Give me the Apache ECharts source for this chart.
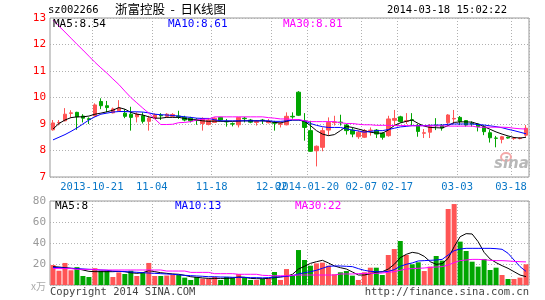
<!DOCTYPE html>
<html><head><meta charset="utf-8">
<script src="https://cdn.jsdelivr.net/npm/echarts@6/dist/echarts.min.js"></script>
<style>html,body{margin:0;padding:0;background:#fff}#c{width:545px;height:300px}</style>
</head><body><div id="c"></div>
<script>
const dates = ['2013-10-10','2013-10-11','2013-10-14','2013-10-15','2013-10-16','2013-10-17','2013-10-18',
'2013-10-21','2013-10-22','2013-10-23','2013-10-24','2013-10-25','2013-10-28','2013-10-29','2013-10-30','2013-10-31','2013-11-01',
'2013-11-04','2013-11-05','2013-11-06','2013-11-07','2013-11-08','2013-11-11','2013-11-12','2013-11-13','2013-11-14','2013-11-15',
'2013-11-18','2013-11-19','2013-11-20','2013-11-21','2013-11-22','2013-11-25','2013-11-26','2013-11-27','2013-11-28','2013-11-29',
'2013-12-02','2013-12-03','2013-12-04','2013-12-05','2014-01-16','2014-01-17',
'2014-01-20','2014-01-21','2014-01-22','2014-01-23','2014-01-24','2014-01-27','2014-01-28','2014-01-29','2014-01-30',
'2014-02-07','2014-02-10','2014-02-11','2014-02-12','2014-02-13','2014-02-14',
'2014-02-17','2014-02-18','2014-02-19','2014-02-20','2014-02-21','2014-02-24','2014-02-25','2014-02-26','2014-02-27','2014-02-28',
'2014-03-03','2014-03-04','2014-03-05','2014-03-06','2014-03-07','2014-03-10','2014-03-11','2014-03-12','2014-03-13','2014-03-14','2014-03-17','2014-03-18'];
const tickIdx = [7,17,27,37,43,52,58,68,77];
const tickText = ['2013-10-21','11-04','11-18','12-02','2014-01-20','02-07','02-17','03-03','03-18'];

const opens = [8.78,9.04,9.12,9.40,9.44,9.30,9.20,9.30,9.85,9.69,
9.42,9.50,9.41,9.37,9.27,9.31,9.10,9.22,9.33,9.29,
9.29,9.30,9.25,9.22,9.16,9.02,8.98,9.06,9.25,9.10,
9.01,8.97,9.22,9.15,9.06,9.15,9.05,9.05,8.99,8.97,
9.29,10.20,9.12,8.75,7.99,8.12,8.77,9.05,9.07,8.96,
8.77,8.52,8.50,8.75,8.77,8.65,8.56,9.14,9.27,9.10,
9.16,8.94,8.65,8.69,8.95,8.94,9.05,9.19,9.25,9.13,
9.03,9.00,8.90,8.67,8.47,8.42,8.50,8.45,8.45,8.58];
const closes = [9.04,9.06,9.37,9.42,9.27,9.22,9.17,9.72,9.69,9.62,
9.57,9.60,9.29,9.25,9.37,9.10,9.22,9.35,9.31,9.37,
9.36,9.28,9.15,9.12,9.13,9.20,9.15,9.22,9.15,9.08,
9.00,9.25,9.20,9.07,9.10,9.13,9.10,9.03,9.01,9.29,
9.27,9.33,8.87,7.97,8.16,8.75,9.06,9.07,9.05,8.75,
8.62,8.69,8.75,8.77,8.62,8.50,9.19,9.21,9.09,9.12,
9.14,8.72,8.67,8.90,8.93,8.85,9.34,9.21,9.09,8.96,
9.01,8.90,8.71,8.48,8.46,8.52,8.47,8.47,8.47,8.84];
const lows = [8.75,8.95,9.10,9.25,8.78,9.06,9.00,9.28,9.56,9.44,
9.40,9.47,9.22,8.75,9.06,9.02,8.75,9.20,9.15,9.25,
9.27,9.19,9.10,9.06,8.97,8.75,8.95,9.04,9.10,8.90,
8.91,8.87,9.06,9.03,8.94,9.00,9.02,8.75,8.87,8.95,
9.20,9.30,8.37,7.95,7.40,7.97,8.56,8.94,8.94,8.60,
8.50,8.44,8.47,8.56,8.47,8.41,8.52,8.94,9.05,9.00,
8.94,8.52,8.47,8.47,8.77,8.75,8.94,9.00,8.96,8.90,
8.90,8.72,8.58,8.30,8.12,8.27,8.45,8.40,8.42,8.52];
const highs = [9.15,9.15,9.60,9.52,9.46,9.37,9.25,9.78,9.97,9.87,
9.62,9.90,9.56,9.65,9.44,9.44,9.31,9.40,9.41,9.41,
9.41,9.50,9.31,9.27,9.22,9.25,9.22,9.25,9.27,9.19,
9.06,9.26,9.27,9.19,9.15,9.19,9.19,9.12,9.09,9.44,
9.44,10.24,9.41,9.12,8.19,8.87,9.25,9.31,9.35,9.00,
8.87,8.75,8.81,8.87,8.81,8.69,9.31,9.53,9.31,9.41,
9.41,9.00,8.81,9.00,9.22,9.00,9.37,9.53,9.30,9.15,
9.10,9.02,8.96,8.77,8.55,8.55,8.52,8.50,8.50,8.96];

const ma5 = [8.81,9.02,9.15,9.24,9.27,9.27,9.30,9.37,9.41,9.46,
9.52,9.62,9.56,9.44,9.37,9.34,9.27,9.22,9.22,9.25,
9.25,9.25,9.21,9.17,9.15,9.12,9.10,9.11,9.10,9.10,
9.10,9.11,9.12,9.12,9.12,9.12,9.10,9.06,9.04,9.10,
9.15,9.15,9.10,8.94,8.75,8.62,8.56,8.60,8.75,8.91,
8.87,8.81,8.75,8.69,8.66,8.65,8.77,8.94,9.04,9.10,
9.15,9.02,8.92,8.87,8.86,8.85,8.94,9.06,9.08,9.08,
9.07,9.00,8.90,8.80,8.70,8.62,8.55,8.49,8.47,8.50];
const ma10 = [8.40,8.50,8.60,8.72,8.85,9.00,9.15,9.27,9.37,9.41,
9.45,9.47,9.47,9.46,9.46,9.45,9.42,9.37,9.35,9.34,
9.32,9.30,9.27,9.25,9.22,9.21,9.21,9.16,9.12,9.12,
9.12,9.12,9.12,9.12,9.12,9.12,9.12,9.10,9.10,9.12,
9.15,9.15,9.12,9.02,8.95,8.90,8.87,8.87,8.87,8.82,
8.77,8.74,8.69,8.72,8.75,8.75,8.79,8.84,8.89,8.91,
8.94,8.94,8.94,8.95,8.96,8.96,8.99,9.00,9.00,9.00,
9.00,8.98,8.96,8.93,8.90,8.86,8.80,8.75,8.69,8.63];
const ma30 = [12.92,12.69,12.47,12.24,12.01,11.79,11.56,11.33,11.12,10.92,
10.70,10.49,10.24,10.00,9.80,9.60,9.41,9.19,8.98,8.98,
8.99,9.05,9.06,9.09,9.15,9.18,9.19,9.27,9.27,9.27,
9.27,9.27,9.27,9.27,9.27,9.27,9.24,9.22,9.19,9.19,
9.17,9.17,9.12,9.09,9.09,9.09,9.09,9.09,9.05,9.02,
9.02,8.99,8.97,8.97,8.95,8.95,8.95,8.94,8.94,8.94,
8.93,8.93,8.93,8.93,8.93,8.93,8.92,8.92,8.92,8.92,
8.92,8.88,8.88,8.88,8.88,8.88,8.87,8.84,8.82,8.81];

const volumes = [19,13.6,21,14,17,8.6,7.6,16,13.6,13.6,
7.6,12,10.5,13.6,8.6,11.7,21,8.6,8.6,9,
9.5,9.5,7,4.8,7.6,6,6,7.6,4.8,7.6,
7,10.5,7,4.8,4.8,6,6,12.4,4.8,15.2,
8.9,33.3,23.8,18.4,20.6,21.3,18.4,10.2,12.1,13.3,
8.9,4.8,12.1,16.5,16.5,9.5,28.6,34.3,41.9,28.6,
19.7,21.6,13.3,17.5,27.6,23.2,72.4,77.1,41.3,32.4,
22.2,17.5,24.8,14.3,16.5,9.5,5.7,5.7,7,19.7];
const vma5 = [17.5,17.1,16.5,15.9,15.6,14.3,13,12.7,12.7,12.7,
12.7,13,12.7,11.7,11.1,11.7,13.7,12.7,11.7,11.1,
10.5,10.2,9.2,7.9,7.3,6.7,6.3,6.3,6.3,6.3,
6.7,7.6,7.3,6.3,6,6,6.3,7,7.6,8.3,
10.2,15.2,17.8,20.6,22.2,23.5,21,18.1,16.5,15.2,
12.4,9.5,9.5,10.8,12.1,12.7,15.2,19.7,26,29.2,
31.1,30.2,27.3,22.2,19.7,20.3,25.4,36.5,46,48.9,
48.6,41.3,31.1,24.8,21.3,18.4,15.9,12.7,9.5,8];
const vma10 = [16.8,16.5,16.2,15.9,15.6,15.3,14.9,14.6,14.3,14,
13.3,13,12.7,12.4,12.1,11.7,11.4,11.1,10.8,10.5,
10.2,9.7,9.2,8.9,8.6,8.3,7.9,7.9,7.6,7.6,
7.3,7.3,7.3,7,7,6.8,7,7.5,7.9,8.3,
8.9,10.5,11.7,12.7,14,15.9,17.8,18.1,18.1,17.8,
17.5,15.6,14,13,12.7,12.4,13,14.6,17.8,19.7,
21,22.9,23.2,23.5,23.8,24.4,28.6,32.7,34.3,34.9,
34.9,34.9,34.9,34.9,34.6,34,30.2,23.8,17.5,13];
const vma30 = [15.6,15.6,15.6,15.6,14.9,14.9,14.9,14.9,14.3,14.3,
14.3,14.3,14.3,14.3,14.3,14.3,14.3,14.3,14.3,13.3,
13.3,13.3,13.3,12,12,12,12,10.8,10.8,10.8,
10.8,10.2,10.2,10.2,10.2,9.2,9,8.8,8.8,8.8,
9.2,9.5,9.5,9.5,9.5,9.5,9.5,9.5,10.5,10.5,
10.5,10.8,11.1,11.1,11.1,11.4,12.1,12.7,14,15.2,
15.6,15.9,16.2,16.8,17.1,17.5,19,21.3,23.2,23.8,
24.4,24.4,24.1,23.5,23.2,23.2,22.9,22.5,22.2,22];

const priceLegend = ['MA5:8.54','MA10:8.61','MA30:8.81'];
const volLegend = ['MA5:8','MA10:13','MA30:22'];

const UP = '#ff5555', DOWN = '#00a600';
const MA_COLORS = ['#000000', '#0000ff', '#ff00ff'];
const MONO = 'DejaVu Sans Mono';

const candles = opens.map((o, i) => [o, closes[i], lows[i], highs[i]]);
const volBars = volumes.map((v, i) => ({value: v, itemStyle: {color: closes[i] >= opens[i] ? UP : DOWN}}));

const chart = echarts.init(document.getElementById('c'), null, {renderer: 'canvas'});
const splitX = {show: true, interval: (idx) => tickIdx.indexOf(idx) >= 0, lineStyle: {color: '#b0b0b0', type: [1, 2], width: 1}};
const splitY = {show: true, lineStyle: {color: '#b0b0b0', type: [1, 2], width: 1}};

function lineSeries(data, color, xi, yi) {
  return {type: 'line', data: data, xAxisIndex: xi, yAxisIndex: yi, symbol: 'none', showSymbol: false,
    lineStyle: {color: color, width: 1}, itemStyle: {color: color}, animation: false, z: 3, silent: true};
}

function legendText(arr, y, xs) {
  return arr.map((t, k) => ({type: 'text', left: xs[k], top: y, z: 10,
    style: {text: t, fill: MA_COLORS[k], font: '11px "' + MONO + '"'}}));
}

chart.setOption({
  animation: false,
  backgroundColor: '#ffffff',
  grid: [
    {left: 50, right: 16, top: 18, height: 159, show: true, borderColor: '#999', borderWidth: 1, backgroundColor: 'transparent'},
    {left: 50, right: 16, top: 201, height: 84, show: true, borderColor: '#999', borderWidth: 1, backgroundColor: 'transparent'}
  ],
  xAxis: [
    {type: 'category', gridIndex: 0, data: dates, boundaryGap: true,
      axisLine: {show: false}, axisTick: {show: false},
      axisLabel: {interval: (idx) => tickIdx.indexOf(idx) >= 0,
        formatter: (v, idx) => { const k = tickIdx.indexOf(idx); return k >= 0 ? tickText[k] : ''; },
        color: '#0a78c8', fontFamily: MONO, fontSize: 10.5, margin: 5, padding: [0, 6, 0, 0]},
      splitLine: splitX},
    {type: 'category', gridIndex: 1, data: dates, boundaryGap: true,
      axisLine: {show: false}, axisTick: {show: false}, axisLabel: {show: false},
      splitLine: splitX}
  ],
  yAxis: [
    {type: 'value', gridIndex: 0, min: 7, max: 13, interval: 1,
      axisLine: {show: false}, axisTick: {show: false},
      axisLabel: {color: '#ff0000', fontFamily: MONO, fontSize: 11, margin: 4},
      splitLine: splitY},
    {type: 'value', gridIndex: 1, min: 0, max: 80, interval: 20,
      axisLine: {show: false}, axisTick: {show: false},
      axisLabel: {color: '#999999', fontFamily: MONO, fontSize: 11, margin: 4, formatter: (v) => v === 0 ? '' : String(v)},
      splitLine: splitY}
  ],
  series: [
    {type: 'candlestick', data: candles, xAxisIndex: 0, yAxisIndex: 0, barWidth: 4, silent: true,
      itemStyle: {color: UP, color0: DOWN, borderColor: UP, borderColor0: DOWN, borderWidth: 1}},
    lineSeries(ma5, MA_COLORS[0], 0, 0),
    lineSeries(ma10, MA_COLORS[1], 0, 0),
    lineSeries(ma30, MA_COLORS[2], 0, 0),
    {type: 'bar', data: volBars, xAxisIndex: 1, yAxisIndex: 1, barWidth: 5, silent: true},
    lineSeries(vma5, MA_COLORS[0], 1, 1),
    lineSeries(vma10, MA_COLORS[1], 1, 1),
    lineSeries(vma30, MA_COLORS[2], 1, 1)
  ],
  graphic: [
    {type: 'text', left: 48, top: 5, style: {text: 'sz002266', fill: '#000', font: '10.5px "' + MONO + '"'}},
    {type: 'text', left: 115, top: 3, style: {text: '浙富控股  -  日K线图', fill: '#000', font: '12.5px "Noto Sans CJK SC"'}},
    {type: 'text', right: 38, top: 5, style: {text: '2014-03-18 15:02:22', fill: '#000', font: '10.5px "' + MONO + '"'}},
    {type: 'text', left: 31, top: 281, style: {text: 'x万', fill: '#aaa', font: '10px "Noto Sans CJK SC"'}},
    {type: 'text', left: 50, top: 287, style: {text: 'Copyright 2014 SINA.COM', fill: '#444', font: '10.5px "' + MONO + '"'}},
    {type: 'text', right: 16, top: 287, style: {text: 'http://finance.sina.com.cn', fill: '#444', font: '10.5px "' + MONO + '"'}},
    {type: 'ellipse', shape: {cx: 506, cy: 157, rx: 5, ry: 4}, style: {fill: 'none', stroke: '#f4a8a8', lineWidth: 2}, z: 1},
    {type: 'text', left: 494, top: 157, z: 1, style: {text: 'sina', fill: '#b8b8b8', font: 'italic bold 15px "DejaVu Sans"'}}
  ].concat(legendText(priceLegend, 19, [53, 168, 283])).concat(legendText(volLegend, 201, [55, 175, 295]))
});
</script>
</body></html>
